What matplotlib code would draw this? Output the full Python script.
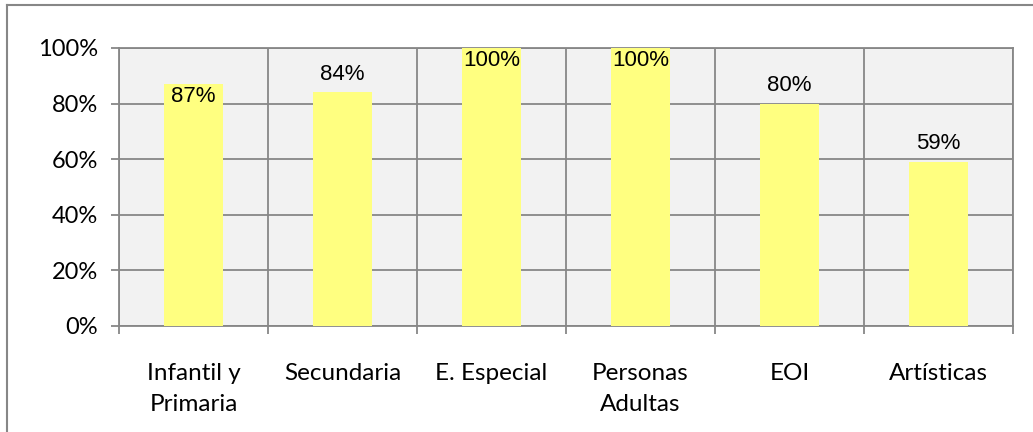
import matplotlib.pyplot as plt
from matplotlib.lines import Line2D
from matplotlib.ticker import FuncFormatter, MultipleLocator
import numpy as np

# datos
categorias = ['Infantil y\nPrimaria', 'Secundaria', 'E. Especial', 'Personas\nAdultas', 'EOI', 'Artísticas']
valores = [0.87, 0.84, 1.00, 1.00, 0.80, 0.59]
etiquetas = ['87%', '84%', '100%', '100%', '80%', '59%']

gris = '#878787'

fig = plt.figure(figsize=(10.33, 4.32), dpi=100)
ax = fig.add_axes([0.1152, 0.2454, 0.8654, 0.6435])
ax.set_facecolor('#F2F2F2')

x = np.arange(len(categorias))
ax.bar(x, valores, width=0.40, color='#FFFF80', zorder=3)

ax.set_xlim(-0.5, len(categorias) - 0.5)
ax.set_ylim(0, 1)

# rejilla
ax.yaxis.set_major_locator(MultipleLocator(0.2))
ax.yaxis.set_major_formatter(FuncFormatter(lambda v, p: '{:.0f}%'.format(v * 100)))
ax.set_xticks(x)
ax.set_xticklabels(categorias, fontfamily='Lato', fontsize=17.5, linespacing=1.55)
ax.set_xticks(np.arange(-0.5, len(categorias)), minor=True)
ax.grid(True, axis='y', which='major', color=gris, linewidth=1.3, zorder=1)
ax.grid(True, axis='x', which='minor', color=gris, linewidth=1.3, zorder=1)
ax.tick_params(axis='x', which='major', length=0, pad=27)
ax.tick_params(axis='x', which='minor', length=6, width=1.3, color=gris, direction='out')
ax.tick_params(axis='y', length=6, width=1.3, color=gris, pad=9)
for t in ax.get_yticklabels():
    t.set_fontfamily('Lato')
    t.set_fontsize(17)

for s in ['top', 'right', 'left', 'bottom']:
    ax.spines[s].set_color(gris)
    ax.spines[s].set_linewidth(1.3)

# etiquetas de datos
for xi, v, lab in zip(x, valores, etiquetas):
    if v >= 0.85:
        dy = -9
    else:
        dy = 13
    ax.annotate(lab, (xi, v), xytext=(0, dy), textcoords='offset points',
                ha='center', va='center', fontsize=16, fontfamily='Liberation Sans',
                color='black', zorder=4)

# borde del grafico
fig.add_artist(Line2D([0.0068, 0.0068], [0, 0.988], transform=fig.transFigure, color=gris, linewidth=1.5))
fig.add_artist(Line2D([0.0068, 1], [0.988, 0.988], transform=fig.transFigure, color=gris, linewidth=1.5))

plt.savefig('out.png', dpi=100)
